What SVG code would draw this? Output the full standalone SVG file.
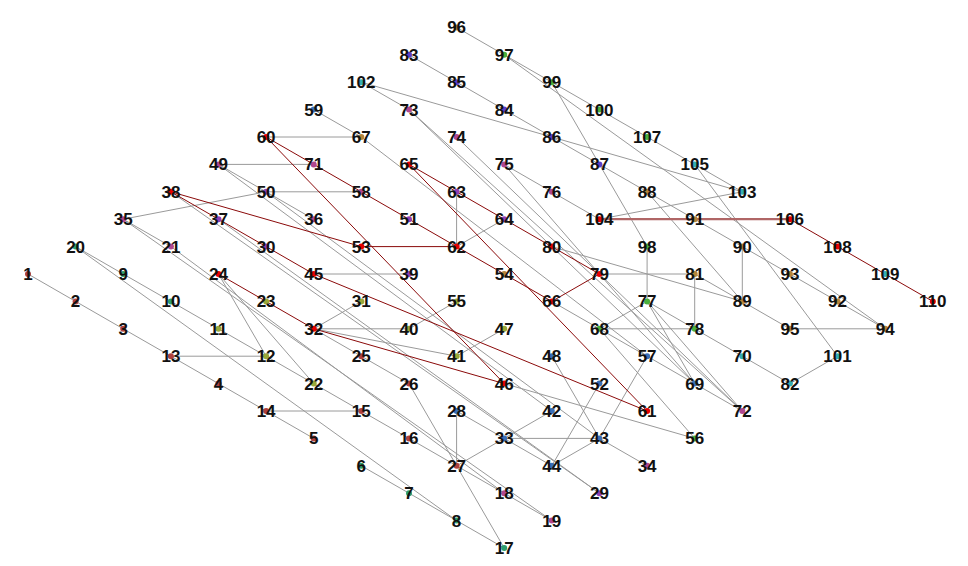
<svg xmlns="http://www.w3.org/2000/svg" width="968" height="566" viewBox="0 0 968 566">
<style>
.bg{fill:#fff}
.e line{stroke:#9a9a9a;stroke-width:1;fill:none}
.e line.r{stroke:#8b0a0a}
.e line.t{stroke:#b06666;stroke-width:2.2}
.node text{font-family:"Liberation Sans",Arial,sans-serif;font-weight:bold;font-size:17px;text-anchor:middle;fill:#111}
.cR{fill:#e80000}.cB{fill:#b0413e}.cO{fill:#9aa83a}.cP{fill:#8f3fb5}.cK{fill:#b0478f}
.cU{fill:#3b6fb6}.cV{fill:#5a3fc8}.cG{fill:#4cb03c}.cT{fill:#2e9e6e}.cY{fill:#b5843a}.cC{fill:#35aeb4}
</style>
<rect class="bg" width="968" height="566"/>
<g id="connectors" class="e">
<line x1="28" y1="274" x2="75.6" y2="301.4"/>
<line x1="75.6" y1="301.4" x2="123.2" y2="328.8"/>
<line x1="123.2" y1="328.8" x2="170.9" y2="356.2"/>
<line x1="170.9" y1="356.2" x2="218.5" y2="383.6"/>
<line x1="218.5" y1="383.6" x2="266.1" y2="411"/>
<line x1="266.1" y1="411" x2="313.7" y2="438.4"/>
<line x1="170.9" y1="356.2" x2="266.1" y2="356.2"/>
<line x1="266.1" y1="411" x2="361.3" y2="411"/>
<line x1="75.6" y1="246.6" x2="123.2" y2="274"/>
<line x1="123.2" y1="274" x2="170.9" y2="301.4"/>
<line x1="170.9" y1="301.4" x2="218.5" y2="328.8"/>
<line x1="218.5" y1="328.8" x2="266.1" y2="356.2"/>
<line x1="266.1" y1="356.2" x2="313.7" y2="383.6"/>
<line x1="313.7" y1="383.6" x2="361.3" y2="411"/>
<line x1="361.3" y1="411" x2="409" y2="438.4"/>
<line x1="409" y1="438.4" x2="456.6" y2="465.8"/>
<line x1="456.6" y1="465.8" x2="504.2" y2="493.2"/>
<line x1="504.2" y1="493.2" x2="551.8" y2="520.6"/>
<line x1="75.6" y1="246.6" x2="456.6" y2="520.6"/>
<line x1="361.3" y1="465.8" x2="409" y2="493.2"/>
<line x1="409" y1="493.2" x2="456.6" y2="520.6"/>
<line x1="456.6" y1="520.6" x2="504.2" y2="548"/>
<line x1="123.2" y1="219.2" x2="266.1" y2="191.8"/>
<line x1="123.2" y1="219.2" x2="170.9" y2="246.6"/>
<line x1="123.2" y1="219.2" x2="551.8" y2="520.6"/>
<line x1="170.9" y1="246.6" x2="504.2" y2="493.2"/>
<line x1="170.9" y1="191.8" x2="599.4" y2="493.2"/>
<line x1="218.5" y1="219.2" x2="599.4" y2="493.2"/>
<line x1="218.5" y1="164.4" x2="313.7" y2="164.4"/>
<line x1="218.5" y1="164.4" x2="266.1" y2="191.8"/>
<line x1="266.1" y1="191.8" x2="313.7" y2="219.2"/>
<line x1="266.1" y1="191.8" x2="361.3" y2="191.8"/>
<line x1="218.5" y1="164.4" x2="551.8" y2="411"/>
<line x1="266.1" y1="191.8" x2="599.4" y2="438.4"/>
<line x1="218.5" y1="274" x2="266.1" y2="356.2"/>
<line x1="218.5" y1="274" x2="313.7" y2="383.6"/>
<line x1="313.7" y1="274" x2="409" y2="274"/>
<line x1="313.7" y1="328.8" x2="361.3" y2="301.4"/>
<line x1="313.7" y1="328.8" x2="409" y2="328.8"/>
<line x1="409" y1="328.8" x2="456.6" y2="301.4"/>
<line x1="313.7" y1="328.8" x2="456.6" y2="356.2"/>
<line x1="456.6" y1="356.2" x2="504.2" y2="328.8"/>
<line x1="313.7" y1="328.8" x2="361.3" y2="356.2"/>
<line x1="361.3" y1="356.2" x2="409" y2="383.6"/>
<line x1="409" y1="383.6" x2="504.2" y2="548"/>
<line x1="456.6" y1="411" x2="456.6" y2="465.8"/>
<line x1="456.6" y1="411" x2="504.2" y2="438.4"/>
<line x1="456.6" y1="465.8" x2="504.2" y2="438.4"/>
<line x1="504.2" y1="438.4" x2="551.8" y2="411"/>
<line x1="504.2" y1="438.4" x2="599.4" y2="438.4"/>
<line x1="504.2" y1="438.4" x2="551.8" y2="465.8"/>
<line x1="551.8" y1="465.8" x2="599.4" y2="438.4"/>
<line x1="551.8" y1="465.8" x2="599.4" y2="383.6"/>
<line x1="599.4" y1="438.4" x2="647.1" y2="356.2"/>
<line x1="599.4" y1="438.4" x2="647.1" y2="465.8"/>
<line x1="551.8" y1="356.2" x2="599.4" y2="438.4"/>
<line x1="504.2" y1="383.6" x2="694.7" y2="438.4"/>
<line x1="599.4" y1="328.8" x2="694.7" y2="438.4"/>
<line x1="313.7" y1="109.6" x2="361.3" y2="137"/>
<line x1="266.1" y1="137" x2="361.3" y2="137"/>
<line x1="361.3" y1="137" x2="647.1" y2="356.2"/>
<line x1="456.6" y1="27.4" x2="504.2" y2="54.8"/>
<line x1="504.2" y1="54.8" x2="551.8" y2="82.2"/>
<line x1="551.8" y1="82.2" x2="599.4" y2="109.6"/>
<line x1="599.4" y1="109.6" x2="647.1" y2="137"/>
<line x1="647.1" y1="137" x2="694.7" y2="164.4"/>
<line x1="694.7" y1="164.4" x2="742.3" y2="191.8"/>
<line x1="409" y1="54.8" x2="456.6" y2="82.2"/>
<line x1="456.6" y1="82.2" x2="504.2" y2="109.6"/>
<line x1="504.2" y1="109.6" x2="551.8" y2="137"/>
<line x1="551.8" y1="137" x2="599.4" y2="164.4"/>
<line x1="599.4" y1="164.4" x2="647.1" y2="191.8"/>
<line x1="647.1" y1="191.8" x2="694.7" y2="219.2"/>
<line x1="694.7" y1="219.2" x2="742.3" y2="246.6"/>
<line x1="742.3" y1="246.6" x2="789.9" y2="274"/>
<line x1="789.9" y1="274" x2="837.5" y2="301.4"/>
<line x1="837.5" y1="301.4" x2="885.2" y2="328.8"/>
<line x1="361.3" y1="82.2" x2="409" y2="109.6"/>
<line x1="361.3" y1="82.2" x2="551.8" y2="137"/>
<line x1="551.8" y1="137" x2="742.3" y2="191.8"/>
<line x1="504.2" y1="54.8" x2="885.2" y2="328.8"/>
<line x1="551.8" y1="82.2" x2="647.1" y2="246.6"/>
<line x1="599.4" y1="219.2" x2="742.3" y2="191.8"/>
<line x1="551.8" y1="191.8" x2="599.4" y2="219.2"/>
<line x1="504.2" y1="164.4" x2="551.8" y2="191.8"/>
<line x1="694.7" y1="164.4" x2="837.5" y2="356.2"/>
<line x1="647.1" y1="191.8" x2="742.3" y2="301.4"/>
<line x1="456.6" y1="191.8" x2="456.6" y2="246.6"/>
<line x1="456.6" y1="246.6" x2="504.2" y2="219.2"/>
<line x1="409" y1="109.6" x2="742.3" y2="411"/>
<line x1="409" y1="109.6" x2="694.7" y2="383.6"/>
<line x1="456.6" y1="137" x2="742.3" y2="411"/>
<line x1="504.2" y1="164.4" x2="694.7" y2="383.6"/>
<line x1="599.4" y1="274" x2="694.7" y2="274"/>
<line x1="694.7" y1="274" x2="694.7" y2="328.8"/>
<line x1="694.7" y1="274" x2="742.3" y2="301.4"/>
<line x1="647.1" y1="246.6" x2="647.1" y2="301.4"/>
<line x1="742.3" y1="246.6" x2="742.3" y2="301.4"/>
<line x1="742.3" y1="301.4" x2="789.9" y2="328.8"/>
<line x1="789.9" y1="328.8" x2="885.2" y2="328.8"/>
<line x1="551.8" y1="246.6" x2="742.3" y2="301.4"/>
<line x1="551.8" y1="301.4" x2="599.4" y2="328.8"/>
<line x1="599.4" y1="328.8" x2="647.1" y2="301.4"/>
<line x1="599.4" y1="328.8" x2="694.7" y2="328.8"/>
<line x1="599.4" y1="328.8" x2="647.1" y2="356.2"/>
<line x1="647.1" y1="356.2" x2="694.7" y2="383.6"/>
<line x1="694.7" y1="383.6" x2="742.3" y2="411"/>
<line x1="647.1" y1="301.4" x2="694.7" y2="328.8"/>
<line x1="694.7" y1="328.8" x2="742.3" y2="356.2"/>
<line x1="742.3" y1="356.2" x2="789.9" y2="383.6"/>
<line x1="789.9" y1="383.6" x2="837.5" y2="356.2"/>
<line x1="647.1" y1="301.4" x2="694.7" y2="383.6"/>
<line x1="647.1" y1="301.4" x2="742.3" y2="411"/>
<line class="r" x1="170.9" y1="191.8" x2="361.3" y2="246.6"/>
<line class="r" x1="170.9" y1="191.8" x2="313.7" y2="274"/>
<line class="r" x1="361.3" y1="246.6" x2="456.6" y2="246.6"/>
<line class="r" x1="266.1" y1="137" x2="456.6" y2="246.6"/>
<line class="r" x1="456.6" y1="246.6" x2="551.8" y2="301.4"/>
<line class="r" x1="218.5" y1="274" x2="313.7" y2="328.8"/>
<line class="r" x1="313.7" y1="328.8" x2="504.2" y2="383.6"/>
<line class="r" x1="266.1" y1="137" x2="504.2" y2="383.6"/>
<line class="r" x1="313.7" y1="274" x2="647.1" y2="411"/>
<line class="r" x1="409" y1="164.4" x2="647.1" y2="411"/>
<line class="r" x1="409" y1="164.4" x2="599.4" y2="274"/>
<line class="r" x1="599.4" y1="274" x2="551.8" y2="301.4"/>
<line class="t" x1="599.4" y1="219.2" x2="789.9" y2="219.2"/>
<line class="r" x1="789.9" y1="219.2" x2="837.5" y2="246.6"/>
<line class="r" x1="837.5" y1="246.6" x2="932.8" y2="301.4"/>
</g>
<g id="n1" class="node"><circle cx="28" cy="274" r="3" class="cB"/><text x="28" y="280">1</text></g>
<g id="n2" class="node"><circle cx="75.6" cy="301.4" r="3" class="cB"/><text x="75.6" y="307.4">2</text></g>
<g id="n3" class="node"><circle cx="123.2" cy="328.8" r="3" class="cB"/><text x="123.2" y="334.8">3</text></g>
<g id="n4" class="node"><circle cx="218.5" cy="383.6" r="3" class="cB"/><text x="218.5" y="389.6">4</text></g>
<g id="n5" class="node"><circle cx="313.7" cy="438.4" r="3" class="cB"/><text x="313.7" y="444.4">5</text></g>
<g id="n6" class="node"><circle cx="361.3" cy="465.8" r="3" class="cT"/><text x="361.3" y="471.8">6</text></g>
<g id="n7" class="node"><circle cx="409" cy="493.2" r="3" class="cT"/><text x="409" y="499.2">7</text></g>
<g id="n8" class="node"><circle cx="456.6" cy="520.6" r="3" class="cT"/><text x="456.6" y="526.6">8</text></g>
<g id="n9" class="node"><circle cx="123.2" cy="274" r="3" class="cT"/><text x="123.2" y="280">9</text></g>
<g id="n10" class="node"><circle cx="170.9" cy="301.4" r="3" class="cT"/><text x="170.9" y="307.4">10</text></g>
<g id="n11" class="node"><circle cx="218.5" cy="328.8" r="3" class="cO"/><text x="218.5" y="334.8">11</text></g>
<g id="n12" class="node"><circle cx="266.1" cy="356.2" r="3" class="cO"/><text x="266.1" y="362.2">12</text></g>
<g id="n13" class="node"><circle cx="170.9" cy="356.2" r="3" class="cB"/><text x="170.9" y="362.2">13</text></g>
<g id="n14" class="node"><circle cx="266.1" cy="411" r="3" class="cB"/><text x="266.1" y="417">14</text></g>
<g id="n15" class="node"><circle cx="361.3" cy="411" r="3" class="cB"/><text x="361.3" y="417">15</text></g>
<g id="n16" class="node"><circle cx="409" cy="438.4" r="3" class="cB"/><text x="409" y="444.4">16</text></g>
<g id="n17" class="node"><circle cx="504.2" cy="548" r="3" class="cT"/><text x="504.2" y="554">17</text></g>
<g id="n18" class="node"><circle cx="504.2" cy="493.2" r="3" class="cK"/><text x="504.2" y="499.2">18</text></g>
<g id="n19" class="node"><circle cx="551.8" cy="520.6" r="3" class="cK"/><text x="551.8" y="526.6">19</text></g>
<g id="n20" class="node"><circle cx="75.6" cy="246.6" r="3" class="cT"/><text x="75.6" y="252.6">20</text></g>
<g id="n21" class="node"><circle cx="170.9" cy="246.6" r="3" class="cK"/><text x="170.9" y="252.6">21</text></g>
<g id="n22" class="node"><circle cx="313.7" cy="383.6" r="3" class="cO"/><text x="313.7" y="389.6">22</text></g>
<g id="n23" class="node"><circle cx="266.1" cy="301.4" r="3" class="cO"/><text x="266.1" y="307.4">23</text></g>
<g id="n24" class="node"><circle cx="218.5" cy="274" r="3" class="cR"/><text x="218.5" y="280">24</text></g>
<g id="n25" class="node"><circle cx="361.3" cy="356.2" r="3" class="cB"/><text x="361.3" y="362.2">25</text></g>
<g id="n26" class="node"><circle cx="409" cy="383.6" r="3" class="cB"/><text x="409" y="389.6">26</text></g>
<g id="n27" class="node"><circle cx="456.6" cy="465.8" r="3" class="cB"/><text x="456.6" y="471.8">27</text></g>
<g id="n28" class="node"><circle cx="456.6" cy="411" r="3" class="cU"/><text x="456.6" y="417">28</text></g>
<g id="n29" class="node"><circle cx="599.4" cy="493.2" r="3" class="cP"/><text x="599.4" y="499.2">29</text></g>
<g id="n30" class="node"><circle cx="266.1" cy="246.6" r="3" class="cP"/><text x="266.1" y="252.6">30</text></g>
<g id="n31" class="node"><circle cx="361.3" cy="301.4" r="3" class="cO"/><text x="361.3" y="307.4">31</text></g>
<g id="n32" class="node"><circle cx="313.7" cy="328.8" r="3" class="cR"/><text x="313.7" y="334.8">32</text></g>
<g id="n33" class="node"><circle cx="504.2" cy="438.4" r="3" class="cU"/><text x="504.2" y="444.4">33</text></g>
<g id="n34" class="node"><circle cx="647.1" cy="465.8" r="3" class="cK"/><text x="647.1" y="471.8">34</text></g>
<g id="n35" class="node"><circle cx="123.2" cy="219.2" r="3" class="cK"/><text x="123.2" y="225.2">35</text></g>
<g id="n36" class="node"><circle cx="313.7" cy="219.2" r="3" class="cK"/><text x="313.7" y="225.2">36</text></g>
<g id="n37" class="node"><circle cx="218.5" cy="219.2" r="3" class="cP"/><text x="218.5" y="225.2">37</text></g>
<g id="n38" class="node"><circle cx="170.9" cy="191.8" r="3" class="cR"/><text x="170.9" y="197.8">38</text></g>
<g id="n39" class="node"><circle cx="409" cy="274" r="3" class="cP"/><text x="409" y="280">39</text></g>
<g id="n40" class="node"><circle cx="409" cy="328.8" r="3" class="cO"/><text x="409" y="334.8">40</text></g>
<g id="n41" class="node"><circle cx="456.6" cy="356.2" r="3" class="cO"/><text x="456.6" y="362.2">41</text></g>
<g id="n42" class="node"><circle cx="551.8" cy="411" r="3" class="cU"/><text x="551.8" y="417">42</text></g>
<g id="n43" class="node"><circle cx="599.4" cy="438.4" r="3" class="cU"/><text x="599.4" y="444.4">43</text></g>
<g id="n44" class="node"><circle cx="551.8" cy="465.8" r="3" class="cU"/><text x="551.8" y="471.8">44</text></g>
<g id="n45" class="node"><circle cx="313.7" cy="274" r="3" class="cR"/><text x="313.7" y="280">45</text></g>
<g id="n46" class="node"><circle cx="504.2" cy="383.6" r="3" class="cR"/><text x="504.2" y="389.6">46</text></g>
<g id="n47" class="node"><circle cx="504.2" cy="328.8" r="3" class="cO"/><text x="504.2" y="334.8">47</text></g>
<g id="n48" class="node"><circle cx="551.8" cy="356.2" r="3" class="cU"/><text x="551.8" y="362.2">48</text></g>
<g id="n49" class="node"><circle cx="218.5" cy="164.4" r="3" class="cK"/><text x="218.5" y="170.4">49</text></g>
<g id="n50" class="node"><circle cx="266.1" cy="191.8" r="3" class="cP"/><text x="266.1" y="197.8">50</text></g>
<g id="n51" class="node"><circle cx="409" cy="219.2" r="3" class="cP"/><text x="409" y="225.2">51</text></g>
<g id="n52" class="node"><circle cx="599.4" cy="383.6" r="3" class="cU"/><text x="599.4" y="389.6">52</text></g>
<g id="n53" class="node"><circle cx="361.3" cy="246.6" r="3" class="cR"/><text x="361.3" y="252.6">53</text></g>
<g id="n54" class="node"><circle cx="504.2" cy="274" r="3" class="cY"/><text x="504.2" y="280">54</text></g>
<g id="n55" class="node"><circle cx="456.6" cy="301.4" r="3" class="cO"/><text x="456.6" y="307.4">55</text></g>
<g id="n56" class="node"><circle cx="694.7" cy="438.4" r="3" class="cG"/><text x="694.7" y="444.4">56</text></g>
<g id="n57" class="node"><circle cx="647.1" cy="356.2" r="3" class="cU"/><text x="647.1" y="362.2">57</text></g>
<g id="n58" class="node"><circle cx="361.3" cy="191.8" r="3" class="cK"/><text x="361.3" y="197.8">58</text></g>
<g id="n59" class="node"><circle cx="313.7" cy="109.6" r="3" class="cU"/><text x="313.7" y="115.6">59</text></g>
<g id="n60" class="node"><circle cx="266.1" cy="137" r="3" class="cR"/><text x="266.1" y="143">60</text></g>
<g id="n61" class="node"><circle cx="647.1" cy="411" r="3" class="cR"/><text x="647.1" y="417">61</text></g>
<g id="n62" class="node"><circle cx="456.6" cy="246.6" r="3" class="cR"/><text x="456.6" y="252.6">62</text></g>
<g id="n63" class="node"><circle cx="456.6" cy="191.8" r="3" class="cP"/><text x="456.6" y="197.8">63</text></g>
<g id="n64" class="node"><circle cx="504.2" cy="219.2" r="3" class="cP"/><text x="504.2" y="225.2">64</text></g>
<g id="n65" class="node"><circle cx="409" cy="164.4" r="3" class="cR"/><text x="409" y="170.4">65</text></g>
<g id="n66" class="node"><circle cx="551.8" cy="301.4" r="3" class="cR"/><text x="551.8" y="307.4">66</text></g>
<g id="n67" class="node"><circle cx="361.3" cy="137" r="3" class="cY"/><text x="361.3" y="143">67</text></g>
<g id="n68" class="node"><circle cx="599.4" cy="328.8" r="3" class="cG"/><text x="599.4" y="334.8">68</text></g>
<g id="n69" class="node"><circle cx="694.7" cy="383.6" r="3" class="cU"/><text x="694.7" y="389.6">69</text></g>
<g id="n70" class="node"><circle cx="742.3" cy="356.2" r="3" class="cC"/><text x="742.3" y="362.2">70</text></g>
<g id="n71" class="node"><circle cx="313.7" cy="164.4" r="3" class="cK"/><text x="313.7" y="170.4">71</text></g>
<g id="n72" class="node"><circle cx="742.3" cy="411" r="3" class="cK"/><text x="742.3" y="417">72</text></g>
<g id="n73" class="node"><circle cx="409" cy="109.6" r="3" class="cK"/><text x="409" y="115.6">73</text></g>
<g id="n74" class="node"><circle cx="456.6" cy="137" r="3" class="cK"/><text x="456.6" y="143">74</text></g>
<g id="n75" class="node"><circle cx="504.2" cy="164.4" r="3" class="cK"/><text x="504.2" y="170.4">75</text></g>
<g id="n76" class="node"><circle cx="551.8" cy="191.8" r="3" class="cK"/><text x="551.8" y="197.8">76</text></g>
<g id="n77" class="node"><circle cx="647.1" cy="301.4" r="3" class="cG"/><text x="647.1" y="307.4">77</text></g>
<g id="n78" class="node"><circle cx="694.7" cy="328.8" r="3" class="cG"/><text x="694.7" y="334.8">78</text></g>
<g id="n79" class="node"><circle cx="599.4" cy="274" r="3" class="cR"/><text x="599.4" y="280">79</text></g>
<g id="n80" class="node"><circle cx="551.8" cy="246.6" r="3" class="cR"/><text x="551.8" y="252.6">80</text></g>
<g id="n81" class="node"><circle cx="694.7" cy="274" r="3" class="cY"/><text x="694.7" y="280">81</text></g>
<g id="n82" class="node"><circle cx="789.9" cy="383.6" r="3" class="cC"/><text x="789.9" y="389.6">82</text></g>
<g id="n83" class="node"><circle cx="409" cy="54.8" r="3" class="cV"/><text x="409" y="60.8">83</text></g>
<g id="n84" class="node"><circle cx="504.2" cy="109.6" r="3" class="cV"/><text x="504.2" y="115.6">84</text></g>
<g id="n85" class="node"><circle cx="456.6" cy="82.2" r="3" class="cV"/><text x="456.6" y="88.2">85</text></g>
<g id="n86" class="node"><circle cx="551.8" cy="137" r="3" class="cV"/><text x="551.8" y="143">86</text></g>
<g id="n87" class="node"><circle cx="599.4" cy="164.4" r="3" class="cV"/><text x="599.4" y="170.4">87</text></g>
<g id="n88" class="node"><circle cx="647.1" cy="191.8" r="3" class="cY"/><text x="647.1" y="197.8">88</text></g>
<g id="n89" class="node"><circle cx="742.3" cy="301.4" r="3" class="cY"/><text x="742.3" y="307.4">89</text></g>
<g id="n90" class="node"><circle cx="742.3" cy="246.6" r="3" class="cY"/><text x="742.3" y="252.6">90</text></g>
<g id="n91" class="node"><circle cx="694.7" cy="219.2" r="3" class="cY"/><text x="694.7" y="225.2">91</text></g>
<g id="n92" class="node"><circle cx="837.5" cy="301.4" r="3" class="cY"/><text x="837.5" y="307.4">92</text></g>
<g id="n93" class="node"><circle cx="789.9" cy="274" r="3" class="cY"/><text x="789.9" y="280">93</text></g>
<g id="n94" class="node"><circle cx="885.2" cy="328.8" r="3" class="cY"/><text x="885.2" y="334.8">94</text></g>
<g id="n95" class="node"><circle cx="789.9" cy="328.8" r="3" class="cY"/><text x="789.9" y="334.8">95</text></g>
<g id="n96" class="node"><circle cx="456.6" cy="27.4" r="3" class="cY"/><text x="456.6" y="33.4">96</text></g>
<g id="n97" class="node"><circle cx="504.2" cy="54.8" r="3" class="cG"/><text x="504.2" y="60.8">97</text></g>
<g id="n98" class="node"><circle cx="647.1" cy="246.6" r="3" class="cG"/><text x="647.1" y="252.6">98</text></g>
<g id="n99" class="node"><circle cx="551.8" cy="82.2" r="3" class="cG"/><text x="551.8" y="88.2">99</text></g>
<g id="n100" class="node"><circle cx="599.4" cy="109.6" r="3" class="cG"/><text x="599.4" y="115.6">100</text></g>
<g id="n101" class="node"><circle cx="837.5" cy="356.2" r="3" class="cC"/><text x="837.5" y="362.2">101</text></g>
<g id="n102" class="node"><circle cx="361.3" cy="82.2" r="3" class="cC"/><text x="361.3" y="88.2">102</text></g>
<g id="n103" class="node"><circle cx="742.3" cy="191.8" r="3" class="cC"/><text x="742.3" y="197.8">103</text></g>
<g id="n104" class="node"><circle cx="599.4" cy="219.2" r="3" class="cR"/><text x="599.4" y="225.2">104</text></g>
<g id="n105" class="node"><circle cx="694.7" cy="164.4" r="3" class="cC"/><text x="694.7" y="170.4">105</text></g>
<g id="n106" class="node"><circle cx="789.9" cy="219.2" r="3" class="cR"/><text x="789.9" y="225.2">106</text></g>
<g id="n107" class="node"><circle cx="647.1" cy="137" r="3" class="cG"/><text x="647.1" y="143">107</text></g>
<g id="n108" class="node"><circle cx="837.5" cy="246.6" r="3" class="cR"/><text x="837.5" y="252.6">108</text></g>
<g id="n109" class="node"><circle cx="885.2" cy="274" r="3" class="cC"/><text x="885.2" y="280">109</text></g>
<g id="n110" class="node"><circle cx="932.8" cy="301.4" r="3" class="cR"/><text x="932.8" y="307.4">110</text></g>
</svg>
